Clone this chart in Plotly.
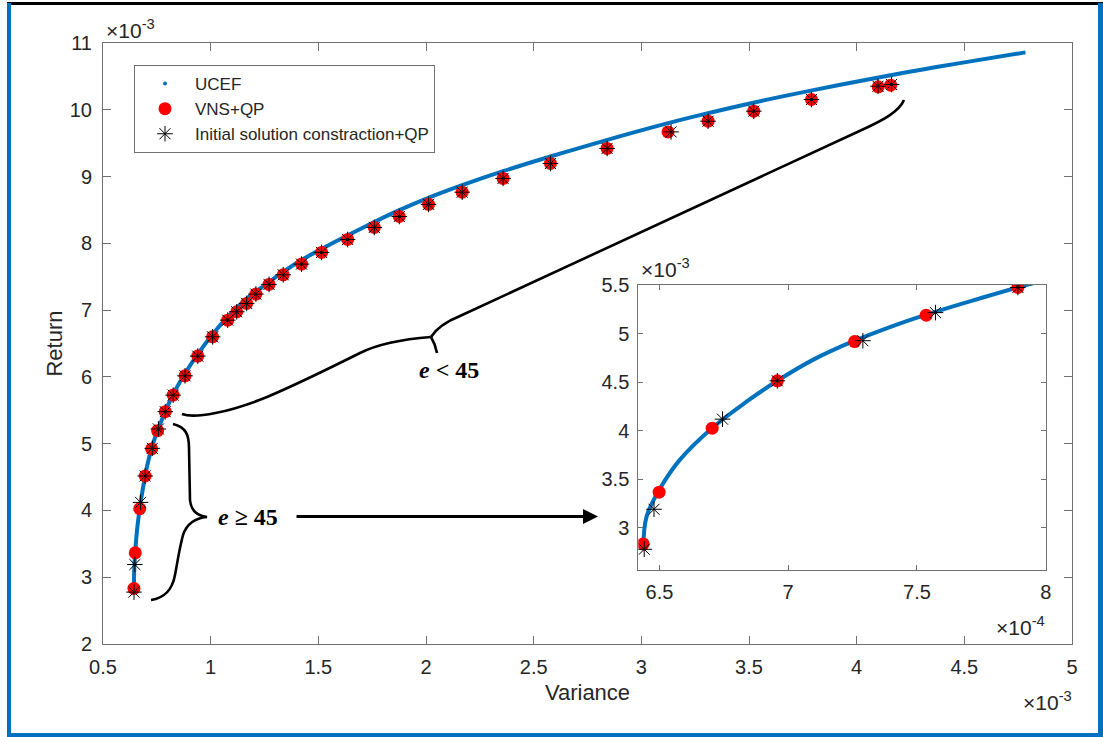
import plotly.graph_objects as go

# ---------------- data (units: x 1e-3 variance, y 1e-3 return) ----------------
ucef_var = [0.6437, 0.6450, 0.6499, 0.6579, 0.6705, 0.6838, 0.6958, 0.7096, 0.7258,
            0.7419, 0.7536, 0.7742, 0.7892, 0.826, 0.881, 0.940, 1.009, 1.079, 1.167,
            1.271, 1.338, 1.422, 1.515, 1.637, 1.760, 1.879, 2.011, 2.168, 2.358,
            2.578, 2.810, 3.124, 3.272, 3.525, 3.793, 4.095, 4.300, 4.500, 4.784]
ucef_ret = [2.78, 3.114, 3.389, 3.70, 4.03, 4.30, 4.516, 4.732, 4.93,
            5.094, 5.20, 5.365, 5.48, 5.74, 6.05, 6.34, 6.64, 6.90, 7.17,
            7.42, 7.575, 7.75, 7.915, 8.12, 8.32, 8.50, 8.68, 8.87, 9.08,
            9.30, 9.52, 9.80, 9.92, 10.11, 10.29, 10.48, 10.60, 10.71, 10.86]

vns_var = [0.6437, 0.6499, 0.6705, 0.6958, 0.7258, 0.7536, 0.7892, 0.826, 0.881, 0.940,
           1.009, 1.079, 1.121, 1.167, 1.210, 1.271, 1.337, 1.422, 1.515, 1.636,
           1.760, 1.876, 2.012, 2.168, 2.358, 2.578, 2.841, 3.124, 3.310, 3.522,
           3.790, 4.100, 4.158]
vns_ret = [2.832, 3.366, 4.027, 4.516, 4.921, 5.194, 5.479, 5.727, 6.016, 6.311,
           6.600, 6.850, 6.975, 7.100, 7.240, 7.385, 7.529, 7.689, 7.864, 8.058,
           8.238, 8.402, 8.584, 8.766, 8.972, 9.196, 9.421, 9.669, 9.829, 9.979,
           10.154, 10.343, 10.368]

init_var = [0.6441, 0.6479, 0.6745, 0.6958, 0.7290, 0.7572, 0.7892, 0.826, 0.881, 0.940,
            1.009, 1.079, 1.121, 1.167, 1.210, 1.271, 1.337, 1.422, 1.515, 1.636,
            1.760, 1.876, 2.012, 2.168, 2.358, 2.578, 2.841, 3.138, 3.310, 3.522,
            3.790, 4.099, 4.162]
init_ret = [2.777, 3.19, 4.12, 4.516, 4.93, 5.22, 5.479, 5.727, 6.016, 6.311,
            6.600, 6.850, 6.975, 7.100, 7.240, 7.385, 7.529, 7.689, 7.864, 8.058,
            8.238, 8.402, 8.584, 8.766, 8.972, 9.196, 9.421, 9.669, 9.829, 9.979,
            10.154, 10.353, 10.379]

x_tickvals = [0.5, 1, 1.5, 2, 2.5, 3, 3.5, 4, 4.5, 5]
x_ticktext = ['0.5', '1', '1.5', '2', '2.5', '3', '3.5', '4', '4.5', '5']
y_tickvals = [2, 3, 4, 5, 6, 7, 8, 9, 10, 11]
y_ticktext = ['2', '3', '4', '5', '6', '7', '8', '9', '10', '11']
inset_x_tickvals = [0.65, 0.70, 0.75, 0.80]
inset_x_ticktext = ['6.5', '7', '7.5', '8']
inset_y_tickvals = [3, 3.5, 4, 4.5, 5, 5.5]
inset_y_ticktext = ['3', '3.5', '4', '4.5', '5', '5.5']

# ---------------- styling ----------------
W, H = 1103, 737
L, R, T, B = 103, 1072, 43, 644
BLUE = '#0072BD'
TXT = '#262626'
AX = '#707070'
FONT = 'Liberation Sans, Arial, sans-serif'


def px(x):
    return (x - L) / (R - L)


def py(y):
    return (B - y) / (B - T)


def path(cmds):
    out = []
    for c in cmds:
        if isinstance(c, str):
            out.append(c)
        else:
            out.append('%.5f,%.5f' % (px(c[0]), py(c[1])))
    return ' '.join(out)


fig = go.Figure()

for ax_x, ax_y, show in (('x', 'y', True), ('x2', 'y2', False)):
    fig.add_trace(go.Scatter(x=ucef_var, y=ucef_ret, mode='lines', name='UCEF',
                             line=dict(color=BLUE, width=4, shape='spline'),
                             showlegend=False, xaxis=ax_x, yaxis=ax_y, hoverinfo='skip'))
    if show:
        fig.add_trace(go.Scatter(x=[None], y=[None], mode='markers', name='UCEF',
                                 marker=dict(color=BLUE, size=4), xaxis=ax_x, yaxis=ax_y))
    fig.add_trace(go.Scatter(x=vns_var, y=vns_ret, mode='markers', name='VNS+QP',
                             marker=dict(color='#FF0000', size=13, line=dict(width=0)),
                             showlegend=show, xaxis=ax_x, yaxis=ax_y))
    fig.add_trace(go.Scatter(x=init_var, y=init_ret, mode='markers',
                             name='Initial solution constraction+QP',
                             marker=dict(symbol='asterisk-open', size=13, color='black',
                                         line=dict(color='black', width=1)),
                             showlegend=show, xaxis=ax_x, yaxis=ax_y))

axis_common = dict(showgrid=False, zeroline=False, showline=True, linecolor=AX, linewidth=1,
                   mirror='ticks', ticks='inside', tickcolor=AX, tickwidth=1,
                   tickfont=dict(family=FONT, size=20, color=TXT))

fig.update_layout(
    width=W, height=H,
    margin=dict(l=L, r=W - R, t=T, b=H - B, pad=0),
    paper_bgcolor='white', plot_bgcolor='white',
    font=dict(family=FONT, color=TXT),
    xaxis=dict(domain=[0, 1], range=[0.5, 5], tickvals=x_tickvals, ticktext=x_ticktext,
               ticklen=8, title=dict(text='Variance', font=dict(size=22, family=FONT, color=TXT),
                                     standoff=7),
               ticklabelstandoff=5, **axis_common),
    yaxis=dict(domain=[0, 1], range=[2, 11], tickvals=y_tickvals, ticktext=y_ticktext,
               ticklen=8, title=dict(text='Return', font=dict(size=22, family=FONT, color=TXT),
                                     standoff=1),
               ticklabelstandoff=6, **axis_common),
    xaxis2=dict(domain=[px(638.3), px(1045.7)], anchor='y2', range=[0.6418, 0.8],
                tickvals=inset_x_tickvals, ticktext=inset_x_ticktext, ticklen=5,
                ticklabelstandoff=4, **axis_common),
    yaxis2=dict(domain=[py(570), py(285)], anchor='x2', range=[2.563, 5.505],
                tickvals=inset_y_tickvals, ticktext=inset_y_ticktext, ticklen=5,
                ticklabelstandoff=4, **axis_common),
    legend=dict(x=px(134), y=py(65), xanchor='left', yanchor='top',
                bgcolor='white', bordercolor=AX, borderwidth=1,
                font=dict(family=FONT, size=17, color=TXT), itemwidth=50,
                tracegroupgap=0),
    showlegend=True,
)

sup = '\u00d710<sup>-3</sup>'
anns = [
    dict(text=sup, x=px(104), y=py(44), xanchor='left', yanchor='bottom'),
    dict(text=sup, x=px(1074), y=py(686), xanchor='right', yanchor='top'),
    dict(text=sup, x=px(639), y=py(283), xanchor='left', yanchor='bottom'),
    dict(text='\u00d710<sup>-4</sup>', x=px(1047), y=py(611), xanchor='right', yanchor='top'),
]
for a in anns:
    fig.add_annotation(xref='paper', yref='paper', showarrow=False,
                       font=dict(family=FONT, size=21, color=TXT), **a)

SERIF = 'Liberation Serif, DejaVu Serif, serif'
fig.add_annotation(xref='paper', yref='paper', x=px(248), y=py(517), showarrow=False,
                   text='<b><i>e</i> \u2265 45</b>', xanchor='center', yanchor='middle',
                   font=dict(family=SERIF, size=24, color='black'))
fig.add_annotation(xref='paper', yref='paper', x=px(449), y=py(370), showarrow=False,
                   text='<b><i>e</i> &lt; 45</b>', xanchor='center', yanchor='middle',
                   font=dict(family=SERIF, size=24, color='black'))
# arrow to the inset
fig.add_annotation(xref='paper', yref='paper', x=px(598), y=py(516.5), ax=-303, ay=0,
                   text='', showarrow=True, arrowhead=2, arrowsize=1, arrowwidth=3,
                   arrowcolor='black')

brace1 = ['M', (173, 424), 'C', (186, 427), (189, 435), (189, 448), 'L', (190, 500),
          'C', (191, 511), (198, 516), (207, 517), 'C', (196, 518), (187, 523), (183, 535),
          'C', (179, 550), (177, 565), (175, 575), 'C', (172, 591), (164, 598), (151, 600)]
brace2a = ['M', (182, 414), 'C', (195, 419), (230, 412), (267, 397), 'C', (300, 383), (330, 368),
           (360, 353), 'C', (380, 343), (405, 339), (431, 337)]
brace2b = ['M', (431, 337), 'C', (434, 342), (436, 347), (437, 353)]
brace2c = ['M', (431, 337), 'C', (436, 329), (445, 322), (460, 316), 'L', (866, 128),
           'C', (881, 121), (899, 112), (904, 100)]
for p in (brace1, brace2a, brace2b, brace2c):
    fig.add_shape(type='path', xref='paper', yref='paper', path=path(p),
                  line=dict(color='black', width=2.6), layer='above')

# frame around the picture
frame = [((7, 2), (1103, 5), 'black'), ((7, 3), (11, 737), '#0070C0'),
         ((1098, 3), (1103, 737), '#0070C0'), ((7, 733), (1103, 737), '#0070C0')]
for (x0, y0), (x1, y1), col in frame:
    fig.add_shape(type='rect', xref='paper', yref='paper', x0=px(x0), x1=px(x1),
                  y0=py(y0), y1=py(y1), fillcolor=col, line=dict(width=0), layer='above')

fig.write_html('out.html', config={'displayModeBar': False},
               post_script="document.body.style.margin='0px';document.body.style.overflow='hidden';")
